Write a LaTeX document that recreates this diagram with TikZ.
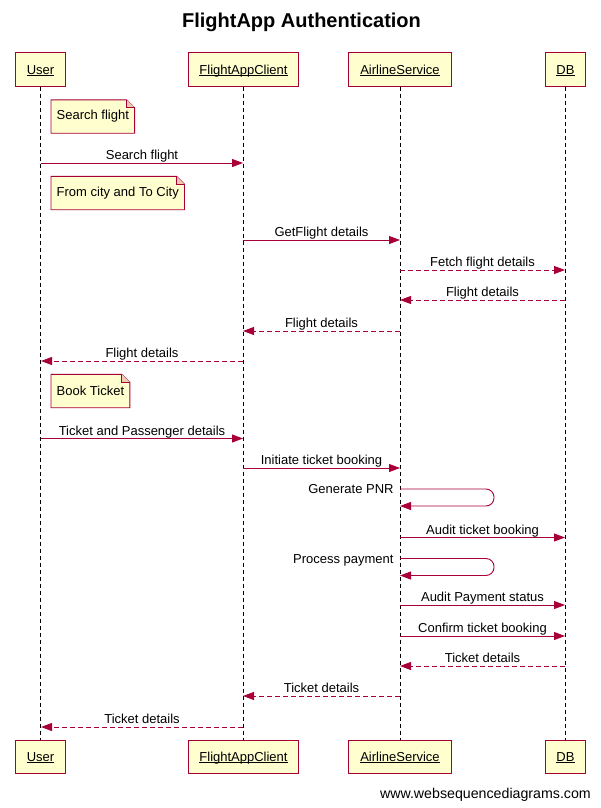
\documentclass[tikz,border=0pt]{standalone}
\usepackage{fontspec}
\setmainfont{Liberation Sans}
\usetikzlibrary{positioning,arrows.meta,calc,backgrounds}
\definecolor{boxfill}{HTML}{FEFECE}
\definecolor{boxline}{HTML}{A80036}
\colorlet{foldfill}{boxline!20!boxfill}
\newcommand{\uname}[1]{\underline{\smash{#1}}}

\tikzset{
	actor/.style={draw=boxline, fill=boxfill, line width=1pt, minimum height=33pt, inner sep=0pt, text height=9.5pt, text depth=0pt, font=\fontsize{13}{15}\selectfont},
	lifeline/.style={black, line width=0.8pt, dash pattern=on 4pt off 3pt},
	msg/.style={boxline, line width=0.9pt, -{Triangle[length=11pt,width=8pt]}},
	reply/.style={msg, dash pattern=on 5pt off 3pt},
	lbl/.style={midway, anchor=base, yshift=3.5pt, text=black, font=\fontsize{13}{15}\selectfont},
	selflbl/.style={anchor=base east, inner sep=0pt, xshift=-6pt, yshift=-4.5pt, text=black, font=\fontsize{13}{15}\selectfont},
	note/.style={anchor=west, minimum height=33pt, inner xsep=5.5pt, font=\fontsize{13}{15}\selectfont},
	notebox/.style={draw=boxline, fill=boxfill, line width=0.9pt}
}

\begin{document}
\begin{tikzpicture}[x=1pt, y=-1pt]
		\useasboundingbox (0,0) rectangle (600,808);
		
		\node[font=\bfseries\fontsize{20}{24}\selectfont] (title) at (301.5,22) {FlightApp Authentication};
		
		% participants
		\node[actor, minimum width=50pt] (usertop) at (40.5,69.5) {\uname{User}};
		\node[actor, minimum width=110pt] (clienttop) at (243.5,69.5) {\uname{FlightAppClient}};
		\node[actor, minimum width=103pt] (airlinetop) at (400,69.5) {\uname{AirlineService}};
		\node[actor, minimum width=40pt] (dbtop) at (565.5,69.5) {\uname{DB}};
		\node[actor, minimum width=50pt] (userbot) at (40.5,756.5) {\uname{User}};
		\node[actor, minimum width=110pt] (clientbot) at (243.5,756.5) {\uname{FlightAppClient}};
		\node[actor, minimum width=103pt] (airlinebot) at (400,756.5) {\uname{AirlineService}};
		\node[actor, minimum width=40pt] (dbbot) at (565.5,756.5) {\uname{DB}};
		
		\draw[lifeline] (usertop) -- (userbot);
		\draw[lifeline] (clienttop) -- (clientbot);
		\draw[lifeline] (airlinetop) -- (airlinebot);
		\draw[lifeline] (dbtop) -- (dbbot);
		
		% points on the lifelines, one row per message
		\foreach \r/\y in {1/163,2/240,3/270,4/300,5/331,6/361,7/438.5,8/468,9/489,9b/506,10/537.5,11/558.5,11b/575.5,12/605,13/636,14/666,15/696,16/727} {
			\coordinate (u\r) at (41,\y);
			\coordinate (c\r) at (243,\y);
			\coordinate (a\r) at (400,\y);
			\coordinate (d\r) at (565,\y);
		}
		
		% notes
		\node[note] (note1) at (51,116.5) {Search flight};
		\node[note] (note2) at (51,193) {From city and To City};
		\node[note] (note3) at (51,391) {Book Ticket};
		\begin{pgfonlayer}{background}
			\foreach \n in {note1,note2,note3} {
				\draw[notebox] (\n.south west) -- (\n.south east) -- ([yshift=-8pt]\n.north east) -- ([xshift=-8pt]\n.north east) -- (\n.north west) -- cycle;
				\draw[notebox, fill=foldfill] ([xshift=-8pt]\n.north east) -- ([xshift=-8pt,yshift=-8pt]\n.north east) -- ([yshift=-8pt]\n.north east);
			}
		\end{pgfonlayer}
		
		% messages
		\draw[msg] (u1) -- node[lbl] {Search flight} (c1);
		\draw[msg] (c2) -- node[lbl] {GetFlight details} (a2);
		\draw[reply] (a3) -- node[lbl] {Fetch flight details} (d3);
		\draw[reply] (d4) -- node[lbl] {Flight details} (a4);
		\draw[reply] (a5) -- node[lbl] {Flight details} (c5);
		\draw[reply] (c6) -- node[lbl] {Flight details} (u6);
		\draw[msg] (u7) -- node[lbl] {Ticket and Passenger details} (c7);
		\draw[msg] (c8) -- node[lbl] {Initiate ticket booking} (a8);
		\draw[msg, rounded corners=8pt] (a9) node[selflbl] {Generate PNR} -- ++(94,0) -- ++(0,17) -- (a9b);
		\draw[msg] (a10) -- node[lbl] {Audit ticket booking} (d10);
		\draw[msg, rounded corners=8pt] (a11) node[selflbl] {Process payment} -- ++(94,0) -- ++(0,17) -- (a11b);
		\draw[msg] (a12) -- node[lbl] {Audit Payment status} (d12);
		\draw[msg] (a13) -- node[lbl] {Confirm ticket booking} (d13);
		\draw[reply] (d14) -- node[lbl] {Ticket details} (a14);
		\draw[reply] (a15) -- node[lbl] {Ticket details} (c15);
		\draw[reply] (c16) -- node[lbl] {Ticket details} (u16);
		
		\node[anchor=base east, inner sep=0pt, font=\fontsize{14.2}{16}\selectfont] (footer) at (591,798) {www.websequencediagrams.com};
\end{tikzpicture}
\end{document}
